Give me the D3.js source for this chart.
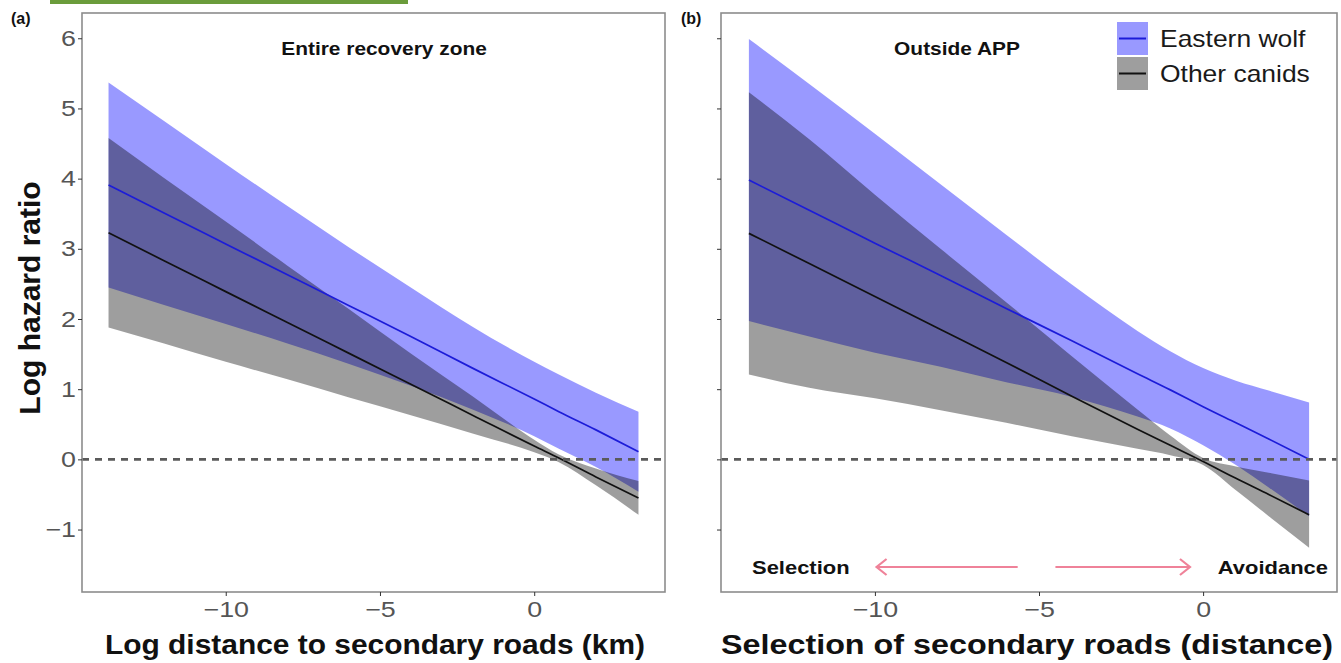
<!DOCTYPE html>
<html>
<head>
<meta charset="utf-8">
<script src="https://cdn.jsdelivr.net/npm/d3@7"></script>
<style>
  body { margin: 0; background: #fff; }
  svg { display: block; font-family: "Liberation Sans", Arial, sans-serif; }
</style>
</head>
<body>
<svg id="chart" width="1341" height="663"></svg>
<script>
// panel (a): entire recovery zone
const xA      = [-13.8, -12, -10, -8, -6, -4, -2, 0, 0.8, 2, 3.38];
const wolfAFit = [3.91, 3.51, 3.07, 2.63, 2.19, 1.75, 1.30, 0.86, 0.68, 0.42, 0.11];
const wolfALo  = [2.45, 2.20, 1.93, 1.65, 1.36, 1.05, 0.71, 0.33, 0.15, -0.11, -0.46];
const wolfAHi  = [5.37, 4.82, 4.21, 3.61, 3.02, 2.45, 1.89, 1.39, 1.21, 0.95, 0.68];
const canAFit  = [3.23, 2.83, 2.39, 1.95, 1.51, 1.07, 0.63, 0.19, 0.02, -0.25, -0.55];
const canALo   = [1.88, 1.65, 1.39, 1.14, 0.88, 0.63, 0.37, 0.10, -0.04, -0.37, -0.79];
const canAHi   = [4.58, 4.01, 3.39, 2.76, 2.14, 1.51, 0.90, 0.28, 0.07, -0.13, -0.31];

// panel (b): outside APP
const xB      = [-13.84, -12, -10, -8, -6, -4, -2, -1, 0, 1, 2, 3.23];
const wolfBFit = [3.98, 3.55, 3.08, 2.62, 2.15, 1.69, 1.22, 0.99, 0.75, 0.52, 0.29, 0.0];
const wolfBLo  = [1.97, 1.75, 1.52, 1.32, 1.10, 0.89, 0.61, 0.44, 0.20, -0.08, -0.40, -0.81];
const wolfBHi  = [5.99, 5.35, 4.64, 3.92, 3.20, 2.49, 1.83, 1.54, 1.30, 1.12, 0.98, 0.81];
const canBFit  = [3.22, 2.79, 2.32, 1.85, 1.38, 0.90, 0.43, 0.20, -0.03, -0.27, -0.50, -0.79];
const canBLo   = [1.21, 1.02, 0.87, 0.70, 0.52, 0.33, 0.15, 0.06, -0.08, -0.44, -0.81, -1.26];
const canBHi   = [5.23, 4.56, 3.77, 3.00, 2.24, 1.47, 0.71, 0.34, 0.02, -0.10, -0.19, -0.30];

const xTicks = [-10, -5, 0];
const yTicks = [-1, 0, 1, 2, 3, 4, 5, 6];
const seriesNames = ['Eastern wolf', 'Other canids'];

const WOLF_FILL = 'rgba(0,0,255,0.4)';
const CAN_FILL  = 'rgba(0,0,0,0.38)';
const WOLF_LINE = '#1c1cd8';
const CAN_LINE  = '#111';
const AXIS_GREY = '#8c8c8c';
const TICK_TEXT = '#555';

const svg = d3.select('#chart');

// the text in the figure is drawn a little wider than plain Arial
function widen(sel, sx) {
  sel.each(function () {
    const t = d3.select(this);
    const x = +t.attr('x') || 0, yy = +t.attr('y') || 0;
    t.attr('x', 0).attr('y', 0)
      .attr('transform', `translate(${x},${yy}) scale(${sx},1)`);
  });
}

// strip of green left over from the page the figure was cut from
svg.append('rect').attr('x', 50).attr('y', 0).attr('width', 358).attr('height', 4).attr('fill', '#6b9c3b');

const y = d3.scaleLinear().domain([-1.89, 6.36]).range([592, 13]);

function panel(cfg) {
  const x = d3.scaleLinear().domain(cfg.domain).range(cfg.range);
  const g = svg.append('g');
  const [x0, x1] = cfg.range;

  const rows = (xs, lo, hi, fit) => xs.map((v, i) => ({ x: v, lo: lo[i], hi: hi[i], fit: fit[i] }));
  const area = d3.area().x(d => x(d.x)).y0(d => y(d.lo)).y1(d => y(d.hi)).curve(d3.curveMonotoneX);
  const line = d3.line().x(d => x(d.x)).y(d => y(d.fit)).curve(d3.curveMonotoneX);

  const wolf = rows(cfg.xs, cfg.wolfLo, cfg.wolfHi, cfg.wolfFit);
  const can  = rows(cfg.xs, cfg.canLo, cfg.canHi, cfg.canFit);

  g.append('path').datum(wolf).attr('d', area).attr('fill', WOLF_FILL);
  g.append('path').datum(can).attr('d', area).attr('fill', CAN_FILL);
  g.append('path').datum(wolf).attr('d', line).attr('fill', 'none').attr('stroke', WOLF_LINE).attr('stroke-width', 1.7);
  g.append('path').datum(can).attr('d', line).attr('fill', 'none').attr('stroke', CAN_LINE).attr('stroke-width', 1.7);

  // zero reference
  g.append('line')
    .attr('x1', x0).attr('x2', x1).attr('y1', y(0)).attr('y2', y(0))
    .attr('stroke', '#5a5a5a').attr('stroke-width', 2.8).attr('stroke-dasharray', '7,6');

  // frame
  g.append('rect')
    .attr('x', x0).attr('y', 13).attr('width', x1 - x0).attr('height', 579)
    .attr('fill', 'none').attr('stroke', AXIS_GREY).attr('stroke-width', 1.6);

  const minus = d => d < 0 ? '\u2212' + Math.abs(d) : d;

  const xAxis = g.append('g').attr('transform', 'translate(0,592)')
    .call(d3.axisBottom(x).tickValues(xTicks).tickSize(4).tickPadding(4).tickFormat(minus));
  xAxis.select('.domain').remove();
  xAxis.selectAll('line').attr('stroke', '#333');
  xAxis.selectAll('text').attr('fill', TICK_TEXT).attr('font-size', 22).attr('dy', '0.75em');
  widen(xAxis.selectAll('text'), 1.22);

  const yAxis = g.append('g').attr('transform', `translate(${x0},0)`)
    .call(d3.axisLeft(y).tickValues(yTicks).tickSize(4).tickPadding(2)
      .tickFormat(d => cfg.yLabels ? minus(d) : ''));
  yAxis.select('.domain').remove();
  yAxis.selectAll('line').attr('stroke', '#333');
  yAxis.selectAll('text').attr('fill', TICK_TEXT).attr('font-size', 22);
  widen(yAxis.selectAll('text'), 1.22);

  g.append('text')
    .attr('x', cfg.titleX).attr('y', 654)
    .attr('text-anchor', 'middle').attr('font-size', 28).attr('font-weight', 700).attr('fill', '#111')
    .attr('textLength', cfg.titleW).attr('lengthAdjust', 'spacingAndGlyphs')
    .text(cfg.xTitle);

  const sub = g.append('text')
    .attr('x', cfg.subX).attr('y', 55)
    .attr('text-anchor', 'middle').attr('font-size', 19).attr('font-weight', 700).attr('fill', '#111')
    .text(cfg.sub);
  widen(sub, 1.1);

  g.append('text')
    .attr('x', cfg.tagX).attr('y', 24)
    .attr('font-size', 16).attr('font-weight', 700).attr('fill', '#111')
    .text(cfg.tag);

  return { x, g };
}

panel({
  domain: [-14.66, 4.24], range: [82, 665],
  xs: xA, wolfFit: wolfAFit, wolfLo: wolfALo, wolfHi: wolfAHi,
  canFit: canAFit, canLo: canALo, canHi: canAHi,
  yLabels: true,
  xTitle: 'Log distance to secondary roads (km)', titleX: 375, titleW: 540,
  sub: 'Entire recovery zone', subX: 384, tag: '(a)', tagX: 11,
});

const pb = panel({
  domain: [-14.69, 4.08], range: [721, 1337],
  xs: xB, wolfFit: wolfBFit, wolfLo: wolfBLo, wolfHi: wolfBHi,
  canFit: canBFit, canLo: canBLo, canHi: canBHi,
  yLabels: false,
  xTitle: 'Selection of secondary roads (distance)', titleX: 1027, titleW: 612,
  sub: 'Outside APP', subX: 957, tag: '(b)', tagX: 681,
});

// y title
svg.append('text')
  .attr('transform', 'translate(40,298) rotate(-90)')
  .attr('text-anchor', 'middle').attr('font-size', 30).attr('font-weight', 700).attr('fill', '#111')
  .text('Log hazard ratio');

// legend
const legend = svg.append('g').attr('transform', 'translate(1117,22)');
const legFills = [WOLF_FILL, CAN_FILL];
const legLines = [WOLF_LINE, CAN_LINE];
seriesNames.forEach((name, i) => {
  const row = legend.append('g').attr('transform', `translate(0,${i * 35})`);
  row.append('rect').attr('width', 31).attr('height', 33).attr('fill', legFills[i]);
  row.append('line').attr('x1', 2).attr('x2', 29).attr('y1', 16.5).attr('y2', 16.5)
    .attr('stroke', legLines[i]).attr('stroke-width', 2);
  const t = row.append('text').attr('x', 43).attr('y', 25).attr('font-size', 23).attr('fill', '#1a1a1a').text(name);
  widen(t, 1.15);
});

// selection / avoidance annotation
const annY = 567;
const ARROW = '#ef8299';
widen(svg.append('text').attr('x', 752).attr('y', annY + 7).attr('font-size', 18).attr('font-weight', 700)
  .attr('fill', '#111').text('Selection'), 1.22);
widen(svg.append('text').attr('x', 1328).attr('y', annY + 7).attr('text-anchor', 'end').attr('font-size', 18)
  .attr('font-weight', 700).attr('fill', '#111').text('Avoidance'), 1.22);

const arrows = [[-5.65, -9.95], [-4.5, -0.4]];
arrows.forEach(([from, to]) => {
  const xf = pb.x(from), xt = pb.x(to);
  const dir = Math.sign(xt - xf);
  svg.append('line').attr('x1', xf).attr('x2', xt).attr('y1', annY).attr('y2', annY)
    .attr('stroke', ARROW).attr('stroke-width', 2.2);
  svg.append('path')
    .attr('d', `M${xt - dir * 10},${annY - 8} L${xt},${annY} L${xt - dir * 10},${annY + 8}`)
    .attr('fill', 'none').attr('stroke', ARROW).attr('stroke-width', 2.2);
});
</script>
</body>
</html>
